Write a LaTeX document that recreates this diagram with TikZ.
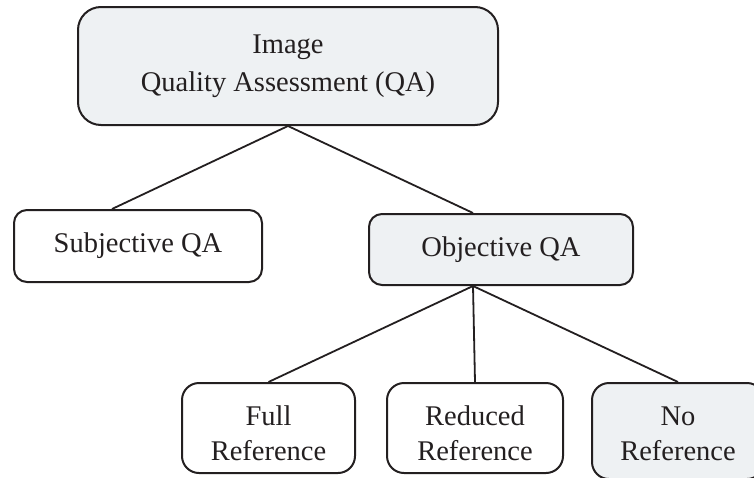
\documentclass[tikz,border=0pt]{standalone}
\usepackage{fontspec}
\setmainfont{Liberation Serif}
\definecolor{inkc}{HTML}{231F20}
\definecolor{boxfill}{HTML}{EEF1F3}
% strut that pushes a two-line label a little lower in its box
\newcommand{\lowstrut}{\rule{0pt}{29.5pt}}
\begin{document}
\begin{tikzpicture}[x=1pt,y=-1pt,
  box/.style={draw=inkc, line width=2pt, rectangle, align=center,
    text=inkc, inner sep=0pt,
    font=\fontsize{28.5}{36}\selectfont},
  shaded/.style={box, fill=boxfill},
  plain/.style={box, fill=white},
  link/.style={draw=inkc, line width=1.8pt}]
\useasboundingbox (0,0) rectangle (754,477);
\clip (0,0) rectangle (754,477);

% root of the taxonomy
\node[shaded, rounded corners=23pt, minimum width=420pt, minimum height=118pt,
  font=\fontsize{28.5}{38}\selectfont] (root) at (288,66)
  {Image\\Quality Assessment (QA)};

% second level
\node[plain, rounded corners=13pt, minimum width=248pt, minimum height=72pt]
  (subj) at (138,246) {Subjective QA};
\node[shaded, rounded corners=13pt, minimum width=264pt, minimum height=71pt]
  (obj) at (501,249.5) {Objective QA};

% third level
\node[plain, rounded corners=17pt, minimum width=173pt, minimum height=90pt,
  font=\fontsize{28.5}{35}\selectfont] (full) at (268.5,428)
  {\lowstrut Full\\Reference};
\node[plain, rounded corners=17pt, minimum width=176pt, minimum height=90pt,
  font=\fontsize{28.5}{35}\selectfont] (red) at (475,428)
  {\lowstrut Reduced\\Reference};
\node[shaded, rounded corners=17pt, minimum width=172pt, minimum height=96pt,
  font=\fontsize{28.5}{35}\selectfont] (noref) at (678,431)
  {\rule{0pt}{23.5pt}No\\Reference};

% connectors
\draw[link] (root.south) -- ([xshift=-26pt]subj.north);
\draw[link] (root.south) -- ([xshift=-28pt]obj.north);
\draw[link] ([xshift=-28pt]obj.south) -- (full.north);
\draw[link] ([xshift=-28pt]obj.south) -- (red.north);
\draw[link] ([xshift=-28pt]obj.south) -- (noref.north);
\end{tikzpicture}
\end{document}
